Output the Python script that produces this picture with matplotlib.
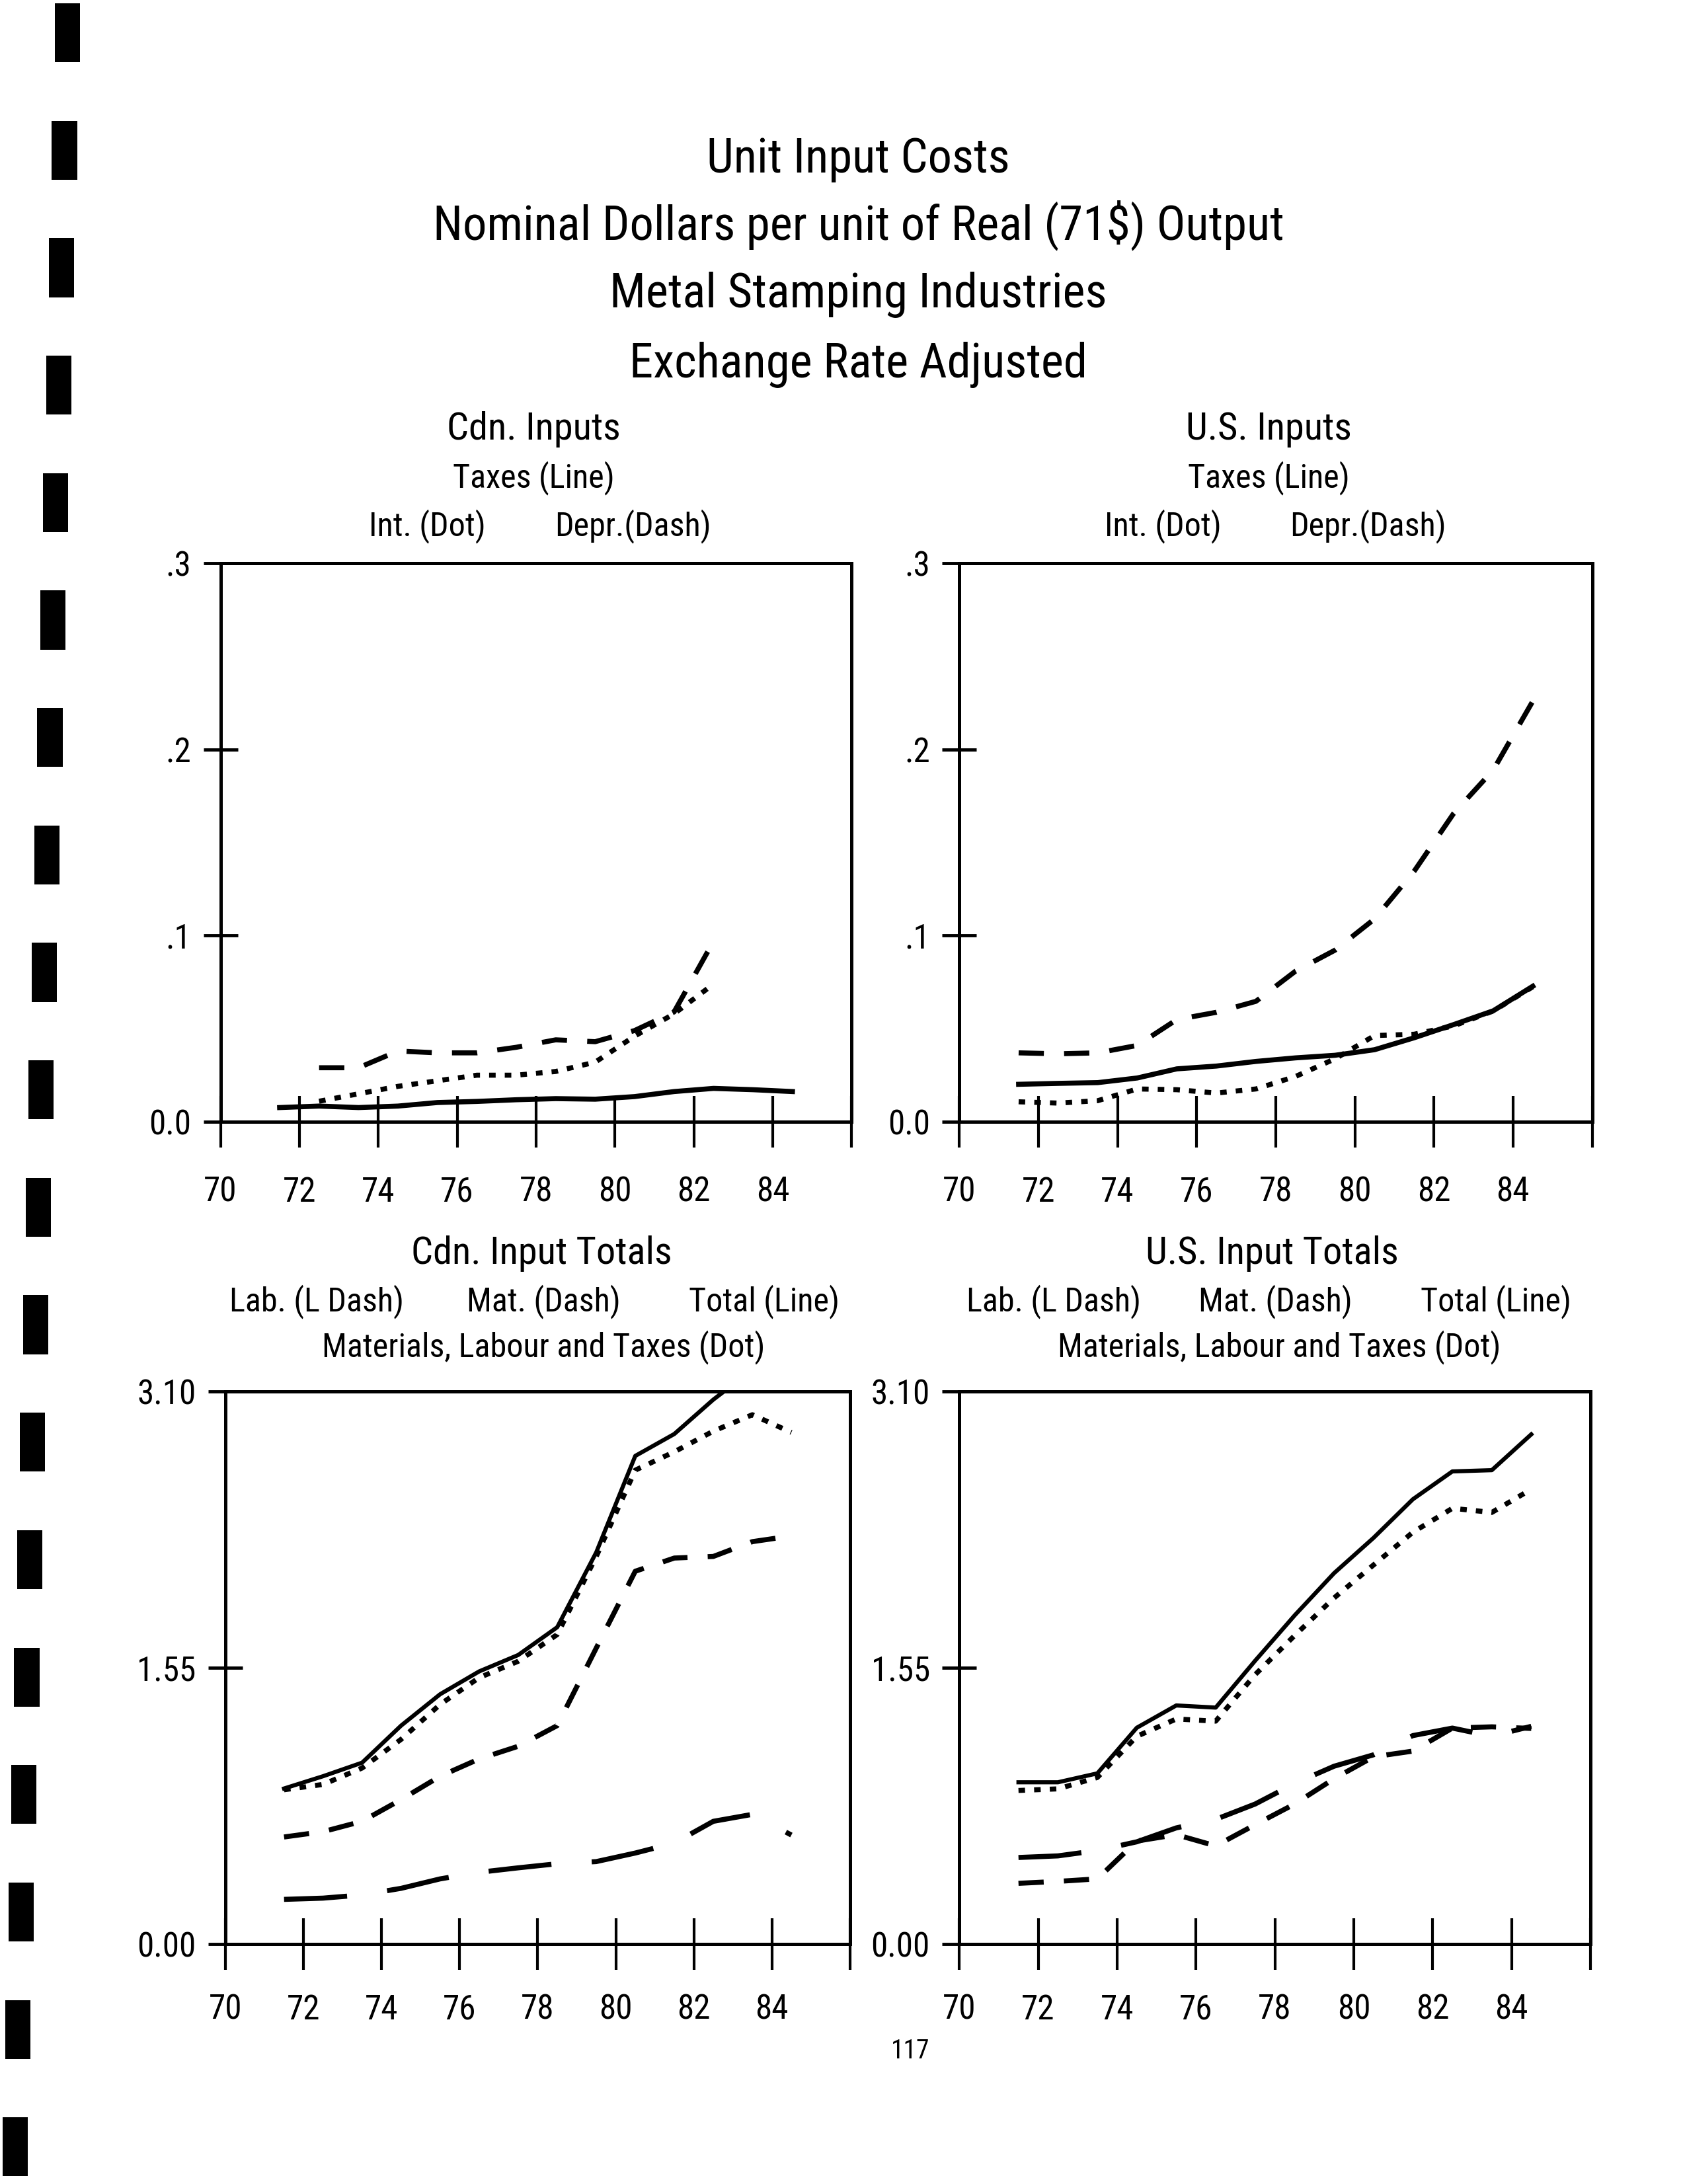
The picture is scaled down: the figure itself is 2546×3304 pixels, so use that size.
import numpy as np
import matplotlib
matplotlib.use("Agg")
import matplotlib.pyplot as plt
from matplotlib import font_manager as fm
from matplotlib.patches import Rectangle

# years 1971..1984, drawn at mid-year on a 70..86 axis
years = np.arange(71, 85)
xmid = years + 0.5

# Cdn. inputs ($ per unit of real output)
cdn_taxes = [0.0076, 0.0084, 0.0076, 0.0084, 0.0103, 0.0109, 0.0118, 0.0124, 0.0121, 0.0135, 0.0162, 0.0179, 0.0172, 0.0162]
cdn_int = [np.nan, 0.011, 0.015, 0.019, 0.022, 0.025, 0.025, 0.027, 0.032, 0.046, 0.058, 0.074, np.nan, np.nan]
cdn_depr = [np.nan, 0.029, 0.029, 0.038, 0.037, 0.037, 0.040, 0.044, 0.043, 0.049, 0.059, 0.097, np.nan, np.nan]

# U.S. inputs
us_taxes = [0.0201, 0.0206, 0.0210, 0.0235, 0.0284, 0.0299, 0.0324, 0.0343, 0.0357, 0.0387, 0.0451, 0.0522, 0.0596, 0.0728]
us_int = [0.0107, 0.0100, 0.0113, 0.0176, 0.0172, 0.0154, 0.0176, 0.0243, 0.0338, 0.0463, 0.0470, 0.0515, 0.0595, 0.0725]
us_depr = [0.0370, 0.0365, 0.0370, 0.0410, 0.0549, 0.0588, 0.0647, 0.0809, 0.0922, 0.1090, 0.1346, 0.1657, 0.1890, 0.2260]

# Cdn. input totals
cdn_lab = [0.249, 0.256, 0.274, 0.311, 0.364, 0.401, 0.426, 0.449, 0.461, 0.509, 0.565, 0.687, 0.726, 0.610]
cdn_mat = [0.599, 0.629, 0.687, 0.809, 0.940, 1.037, 1.108, 1.224, 1.659, 2.090, 2.164, 2.173, 2.256, 2.288]
cdn_total = [0.871, 0.940, 1.016, 1.224, 1.400, 1.528, 1.620, 1.776, 2.196, 2.737, 2.860, 3.053, 3.220, 3.160]
cdn_mlt = [0.864, 0.894, 0.986, 1.147, 1.343, 1.493, 1.585, 1.735, 2.173, 2.657, 2.760, 2.876, 2.968, 2.869]

# U.S. input totals
us_lab = [0.484, 0.493, 0.523, 0.572, 0.650, 0.698, 0.784, 0.899, 0.996, 1.060, 1.168, 1.210, 1.164, 1.220]
us_mat = [0.339, 0.350, 0.364, 0.576, 0.612, 0.549, 0.668, 0.784, 0.926, 1.049, 1.081, 1.210, 1.217, 1.208]
us_total = [0.906, 0.906, 0.956, 1.212, 1.337, 1.325, 1.588, 1.842, 2.079, 2.277, 2.494, 2.650, 2.657, 2.858]
us_mlt = [0.860, 0.869, 0.933, 1.164, 1.261, 1.249, 1.510, 1.729, 1.940, 2.125, 2.309, 2.443, 2.420, 2.550]

xticks = list(range(70, 87, 2))
xlabels = [str(v) for v in range(70, 85, 2)] + [""]
top_yticks, top_ylabels = [0.0, 0.1, 0.2, 0.3], ["0.0", ".1", ".2", ".3"]
bot_yticks, bot_ylabels = [0.0, 1.55, 3.10], ["0.00", "1.55", "3.10"]

title_lines = ["Unit Input Costs",
               "Nominal Dollars per unit of Real (71$) Output",
               "Metal Stamping Industries",
               "Exchange Rate Adjusted"]


def narrow_font():
    names = {f.name for f in fm.fontManager.ttflist}
    for fam in ["Liberation Sans Narrow", "Roboto Condensed", "Open Sans Condensed", "Arial Narrow"]:
        if fam in names:
            return fm.FontProperties(family=fam)
    for f in fm.fontManager.ttflist:
        if f.stretch in ("condensed", "semi-condensed") and f.style == "normal" and f.weight in (400, "normal", "regular"):
            return fm.FontProperties(fname=f.fname)
    return fm.FontProperties(family="DejaVu Sans")


FP = narrow_font()
fig = plt.figure(figsize=(25.46, 33.04), dpi=100)
fig.patch.set_facecolor("white")


def size_for(s, frac, base=40):
    t = fig.text(0, 0, s, fontproperties=FP, fontsize=base)
    w = t.get_window_extent(fig.canvas.get_renderer()).width
    t.remove()
    return base * frac * fig.bbox.width / w


def ftext(x, y, s, size):
    fig.text(x, y, s, fontproperties=FP, fontsize=size, ha="center", va="center", color="black")


S_TITLE = size_for(title_lines[1], 0.506)
S_HEAD = size_for("Cdn. Input Totals", 0.155)
S_SUB = size_for("Materials, Labour and Taxes (Dot)", 0.263)
S_TICK = size_for("3.10", 0.035)

LW = 5.5
DOT = (0, (1.3, 1.8))
DASH = (0, (5, 4))
LDASH = (0, (12.5, 8))


def style_axes(ax, ymax, yticks, ylabels, xpad):
    ax.set_xlim(70, 86)
    ax.set_ylim(0, ymax)
    ax.set_xticks(xticks)
    ax.set_xticklabels(xlabels)
    ax.set_yticks(yticks)
    ax.set_yticklabels(ylabels)
    for s in ax.spines.values():
        s.set_linewidth(3.6)
    ax.tick_params(axis="x", direction="inout", length=56, width=3, pad=xpad)
    ax.tick_params(axis="y", direction="inout", length=38, width=3.5, pad=13)
    for lab in ax.get_xticklabels() + ax.get_yticklabels():
        lab.set_fontproperties(FP)
        lab.set_fontsize(S_TICK)


ax_tl = fig.add_axes([0.131, 0.4864, 0.375, 0.2556])
ax_tr = fig.add_axes([0.570, 0.4864, 0.376, 0.2556])
ax_bl = fig.add_axes([0.134, 0.110, 0.371, 0.253])
ax_br = fig.add_axes([0.570, 0.110, 0.375, 0.253])

for ax, tx, it, dp in [(ax_tl, cdn_taxes, cdn_int, cdn_depr), (ax_tr, us_taxes, us_int, us_depr)]:
    ax.plot(xmid, tx, color="black", lw=LW, ls="-")
    ax.plot(xmid, it, color="black", lw=LW, ls=DOT)
    ax.plot(xmid, dp, color="black", lw=LW, ls=DASH)
    style_axes(ax, 0.3, top_yticks, top_ylabels, 31)

for ax, lb, mt, tt, ml in [(ax_bl, cdn_lab, cdn_mat, cdn_total, cdn_mlt), (ax_br, us_lab, us_mat, us_total, us_mlt)]:
    ax.plot(xmid, lb, color="black", lw=LW, ls=LDASH)
    ax.plot(xmid, mt, color="black", lw=LW, ls=DASH)
    ax.plot(xmid, tt, color="black", lw=4.5, ls="-")
    ax.plot(xmid, ml, color="black", lw=LW, ls=DOT)
    style_axes(ax, 3.10, bot_yticks, bot_ylabels, 26)

# main title
for s, y in zip(title_lines, [0.927, 0.897, 0.865, 0.833]):
    ftext(0.510, y, s, S_TITLE)

# panel headings
ftext(0.317, 0.8034, "Cdn. Inputs", S_HEAD)
ftext(0.317, 0.7812, "Taxes (Line)", S_SUB)
ftext(0.254, 0.759, "Int. (Dot)", S_SUB)
ftext(0.376, 0.759, "Depr.(Dash)", S_SUB)
ftext(0.754, 0.8034, "U.S. Inputs", S_HEAD)
ftext(0.754, 0.7812, "Taxes (Line)", S_SUB)
ftext(0.691, 0.759, "Int. (Dot)", S_SUB)
ftext(0.813, 0.759, "Depr.(Dash)", S_SUB)

ftext(0.322, 0.426, "Cdn. Input Totals", S_HEAD)
ftext(0.188, 0.404, "Lab. (L Dash)", S_SUB)
ftext(0.323, 0.404, "Mat. (Dash)", S_SUB)
ftext(0.454, 0.404, "Total (Line)", S_SUB)
ftext(0.323, 0.383, "Materials, Labour and Taxes (Dot)", S_SUB)
ftext(0.756, 0.426, "U.S. Input Totals", S_HEAD)
ftext(0.626, 0.404, "Lab. (L Dash)", S_SUB)
ftext(0.758, 0.404, "Mat. (Dash)", S_SUB)
ftext(0.889, 0.404, "Total (Line)", S_SUB)
ftext(0.760, 0.383, "Materials, Labour and Taxes (Dot)", S_SUB)

# page number
ftext(0.541, 0.061, "117", size_for("117", 0.023))

# binder punch marks along the left edge of the scanned page
n_marks = 19
for i in range(n_marks):
    frac = i / (n_marks - 1)
    yc = 0.985 - frac * 0.968
    xc = 0.040 - frac * 0.031
    fig.add_artist(Rectangle((xc - 0.0075, yc - 0.0135), 0.015, 0.027,
                             transform=fig.transFigure, color="black", lw=0))

fig.savefig("out.png", dpi=100, facecolor="white")
